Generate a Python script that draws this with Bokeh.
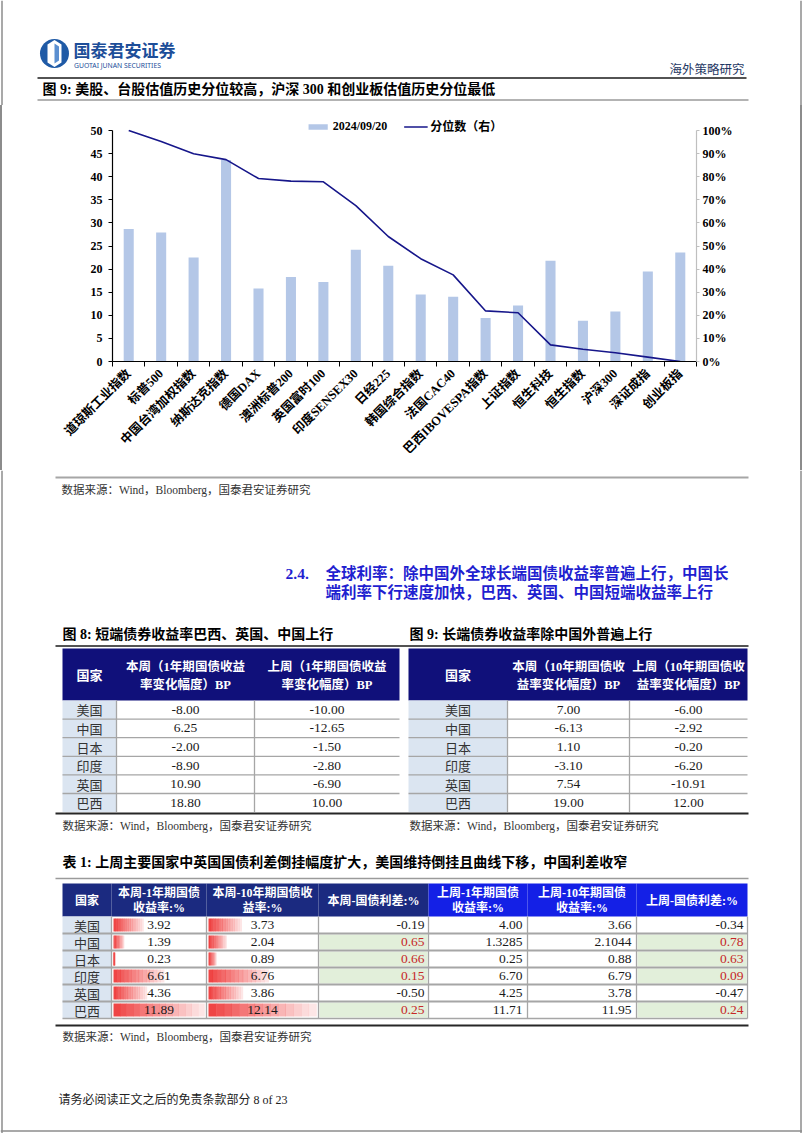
import math
from bokeh.plotting import figure
from bokeh.layouts import column
from bokeh.models import Range1d, LinearAxis, FixedTicker, NumeralTickFormatter, Legend, LegendItem
from bokeh.core.properties import value
from bokeh.embed import file_html
from bokeh.resources import INLINE

# ---------------- data ----------------
categories = ["道琼斯工业指数", "标普500", "中国台湾加权指数", "纳斯达克指数", "德国DAX", "澳洲标普200",
              "英国富时100", "印度SENSEX30", "日经225", "韩国综合指数", "法国CAC40", "巴西IBOVESPA指数",
              "上证指数", "恒生科技", "恒生指数", "沪深300", "深证成指", "创业板指"]
pe_2024_09_20 = [28.7, 27.9, 22.5, 43.6, 15.8, 18.3, 17.2, 24.2, 20.7, 14.5,
                 14.0, 9.4, 12.1, 21.8, 8.8, 10.8, 19.5, 23.6]
percentile = [1.00, 0.952, 0.899, 0.874, 0.792, 0.781, 0.778, 0.675, 0.541, 0.445,
              0.375, 0.219, 0.211, 0.072, 0.053, 0.038, 0.019, 0.0]
left_ticks = [0, 5, 10, 15, 20, 25, 30, 35, 40, 45, 50]
right_ticks = [0.0, 0.1, 0.2, 0.3, 0.4, 0.5, 0.6, 0.7, 0.8, 0.9, 1.0]

countries = ["美国", "中国", "日本", "印度", "英国", "巴西"]
short_this_week = [-8.00, 6.25, -2.00, -8.90, 10.90, 18.80]
short_last_week = [-10.00, -12.65, -1.50, -2.80, -6.90, 10.00]
long_this_week = [7.00, -6.13, 1.10, -3.10, 7.54, 19.00]
long_last_week = [-6.00, -2.92, -0.20, -6.20, -10.91, 12.00]
y1_this = [3.92, 1.39, 0.23, 6.61, 4.36, 11.89]
y10_this = [3.73, 2.04, 0.89, 6.76, 3.86, 12.14]
spread_this = [-0.19, 0.65, 0.66, 0.15, -0.50, 0.25]
y1_last = [4.00, 1.3285, 0.25, 6.70, 4.25, 11.71]
y10_last = [3.66, 2.1044, 0.88, 6.79, 3.78, 11.95]
spread_last = [-0.34, 0.78, 0.63, 0.09, -0.47, 0.24]

# ---------------- styles ----------------
SERIF = "Liberation Serif"
MIX = "Liberation Serif, Noto Sans CJK SC"
CJK = "Noto Sans CJK SC"
W = 802
BAR = "#b4c7e7"
LINE = "#16168a"
NAVY = "#10107a"
NAVY2 = "#1b2a80"
BLUE2 = "#1420e6"
GRAY = "#a6a6a6"
EDGE = "#8c8c8c"


def fmt(v):
    s = f"{v:.2f}"
    if abs(float(s) - v) > 1e-9:
        s = f"{v:.4f}"
    return s


def page_fig(top, bottom):
    f = figure(width=W, height=bottom - top, x_range=Range1d(0, W), y_range=Range1d(bottom, top),
               output_backend="svg", toolbar_location=None, min_border=0,
               x_axis_location=None, y_axis_location=None)
    f.frame_align = False
    f.grid.visible = False
    f.outline_line_color = None
    # page edges
    f.segment(x0=[1.5, 800.5], x1=[1.5, 800.5], y0=[top, top], y1=[bottom, bottom],
              line_color=EDGE, line_width=1.5)
    return f


def T(f, x, y, s, size, color="#000000", bold=False, font=MIX, align="left", baseline="middle"):
    f.text(x=[x], y=[y], text=[s], text_font=value(font), text_font_size=f"{size}px",
           text_color=color, text_font_style="bold" if bold else "normal",
           text_align=align, text_baseline=baseline)


def HL(f, x0, x1, y, color, w):
    f.segment(x0=[x0], y0=[y], x1=[x1], y1=[y], line_color=color, line_width=w)


# ---------------- header ----------------
ph = page_fig(0, 105)
ph.ellipse(x=[54], y=[53], width=29, height=29, fill_color="#1f5aa6", line_color=None)
ph.patch(x=[54, 61, 61, 54, 47, 47], y=[39.5, 44, 62, 66.5, 62, 44], fill_color="white", line_color=None)
ph.patch(x=[54, 58.5, 58.5, 54], y=[43, 46, 60, 63], fill_color="#5b8fd0", line_color=None)
T(ph, 73, 49, "国泰君安证券", 17, "#1d4e99", bold=True, font=CJK)
T(ph, 73.5, 64.5, "GUOTAI JUNAN SECURITIES", 6.8, "#1d4e99", font="Noto Sans")
T(ph, 744, 68, "海外策略研究", 12.5, "#1f3864", font=CJK, align="right")
HL(ph, 37, 746, 77.5, "#1a1a1a", 1.6)
T(ph, 42, 88.5, "图 9: 美股、台股估值历史分位较高，沪深 300 和创业板估值历史分位最低", 14, "#000000", bold=True)
HL(ph, 37, 748, 99.5, "#9a9a9a", 1.6)

# ---------------- chart ----------------
# frame: page x 112..696, page y 114..361 ; value 50 / 100% sits at page y 130
TOP0 = 105
FR_TOP, FR_BOT, V_TOP = 114, 361, 130
ext = (FR_BOT - FR_TOP) / (FR_BOT - V_TOP)
centers = [i + 0.5 for i in range(len(categories))]
bounds = [float(i) for i in range(len(categories) + 1)]
pc = figure(width=W, height=365, x_range=Range1d(0, len(categories)), y_range=Range1d(0, 50 * ext),
            output_backend="svg", toolbar_location=None,
            min_border_left=112, min_border_right=W - 696, min_border_top=FR_TOP - TOP0,
            min_border_bottom=470 - FR_BOT, x_axis_location=None, y_axis_location=None)
pc.frame_align = False
pc.grid.visible = False
pc.outline_line_color = None
pc.border_fill_color = None
pc.styles = {"box-shadow": "inset 2px 0 0 #8c8c8c, inset -2px 0 0 #8c8c8c"}
pc.extra_y_ranges = {"pct": Range1d(0, 1 * ext)}

bars = pc.vbar(x=centers, top=pe_2024_09_20, width=0.31, bottom=0, fill_color=BAR, line_color=None)
ln = pc.line(x=centers, y=percentile, y_range_name="pct", line_color=LINE, line_width=1.6)

ax_l = LinearAxis(ticker=FixedTicker(ticks=left_ticks, minor_ticks=[]), bounds=(0, 50))
ax_r = LinearAxis(y_range_name="pct", ticker=FixedTicker(ticks=right_ticks, minor_ticks=[]),
                  formatter=NumeralTickFormatter(format="0%"), bounds=(0, 1))
overrides = {}
for c, lab in zip(centers, categories):
    overrides[c] = lab
    overrides[str(c)] = lab
ax_b = LinearAxis(ticker=FixedTicker(ticks=centers, minor_ticks=bounds), major_label_overrides=overrides)

for ax in (ax_l, ax_r, ax_b):
    ax.major_label_text_font = SERIF
    ax.major_label_text_font_style = "bold"
    ax.major_label_text_font_size = "12px"
    ax.major_label_text_color = "#000000"
    ax.axis_line_color = "#000000"
    ax.axis_line_width = 1.2
    ax.major_tick_line_color = "#000000"
    ax.major_tick_in = 0
    ax.major_tick_out = 4
    ax.minor_tick_line_color = None

ax_l.major_label_standoff = 6
ax_r.axis_line_color = "#bfbfbf"
ax_r.major_tick_line_color = "#bfbfbf"
ax_r.major_tick_out = 3
ax_r.major_label_standoff = 3
ax_b.major_tick_line_color = None
ax_b.minor_tick_line_color = "#000000"
ax_b.minor_tick_in = 0
ax_b.minor_tick_out = 5
ax_b.major_label_orientation = math.pi / 4
ax_b.major_label_text_font = MIX
ax_b.major_label_text_font_size = "12.5px"
ax_b.major_label_standoff = 5

pc.add_layout(ax_l, "left")
pc.add_layout(ax_r, "right")
pc.add_layout(ax_b, "below")

legend = Legend(items=[LegendItem(label="2024/09/20", renderers=[bars]),
                       LegendItem(label="分位数（右）", renderers=[ln])],
                orientation="horizontal", location="top_center", padding=0, margin=3, spacing=16,
                label_standoff=3, glyph_width=24, glyph_height=7, label_height=12,
                border_line_color=None, background_fill_alpha=0,
                label_text_font=MIX, label_text_font_style="bold", label_text_font_size="12px",
                label_text_color="#000000")
pc.add_layout(legend, "center")

# ---------------- rest of page ----------------
pr = page_fig(470, 1133)
HL(pr, 0, W, 1130.5, EDGE, 1.5)
HL(pr, 55, 748, 477, GRAY, 2)
T(pr, 61, 489, "数据来源：Wind，Bloomberg，国泰君安证券研究", 11.5, "#333333")

T(pr, 285, 573, "2.4.", 15.5, "#1f1fd0", bold=True, font=SERIF)
T(pr, 325, 573, "全球利率：除中国外全球长端国债收益率普遍上行，中国长", 15.5, "#1f1fd0", bold=True)
T(pr, 325, 592, "端利率下行速度加快，巴西、英国、中国短端收益率上行", 15.5, "#1f1fd0", bold=True)

T(pr, 62, 634, "图 8: 短端债券收益率巴西、英国、中国上行", 14, "#000000", bold=True)
T(pr, 409, 634, "图 9: 长端债券收益率除中国外普遍上行", 14, "#000000", bold=True)
HL(pr, 55, 748, 645.5, "#1a1a1a", 1.6)


def bond_table(f, cols, head2, head3, this_vals, last_vals):
    top, hb, rh = 648.0, 700.0, 18.6
    f.quad(left=[cols[0]], right=[cols[-1]], top=[top], bottom=[hb], fill_color=NAVY, line_color=None)
    T(f, (cols[0] + cols[1]) / 2, 675, "国家", 13, "#ffffff", bold=True, align="center")
    for j, lines in ((1, head2), (2, head3)):
        for k, s in enumerate(lines):
            T(f, (cols[j] + cols[j + 1]) / 2, 666 + k * 18, s, 12.5, "#ffffff", bold=True, align="center")
    n = len(countries)
    tops = [hb + i * rh for i in range(n)]
    bots = [t + rh for t in tops]
    mids = [t + rh / 2 for t in tops]
    f.quad(left=[cols[0]] * n, right=[cols[1]] * n, top=tops, bottom=bots,
           fill_color="#dbe5f1", line_color=None)
    f.segment(x0=[cols[0]] * (n - 1), x1=[cols[-1]] * (n - 1), y0=tops[1:], y1=tops[1:],
              line_color=GRAY, line_width=1.3)
    f.segment(x0=[cols[1], cols[2]], x1=[cols[1], cols[2]], y0=[hb, hb], y1=[bots[-1], bots[-1]],
              line_color=GRAY, line_width=1.3)
    cx = [(cols[0] + cols[1]) / 2] * n
    f.text(x=cx, y=mids, text=countries, text_font=value(CJK), text_font_size="13px",
           text_color="#333333", text_align="center", text_baseline="middle")
    for j, vals in ((1, this_vals), (2, last_vals)):
        f.text(x=[(cols[j] + cols[j + 1]) / 2] * n, y=mids, text=[fmt(v) for v in vals],
               text_font=value(SERIF), text_font_size="13.5px", text_color="#1a1a1a",
               text_align="center", text_baseline="middle")


bond_table(pr, [62, 116, 254, 399], ["本周（1年期国债收益", "率变化幅度）BP"],
           ["上周（1年期国债收益", "率变化幅度）BP"], short_this_week, short_last_week)
bond_table(pr, [408, 507, 629, 747], ["本周（10年期国债收", "益率变化幅度）BP"],
           ["上周（10年期国债收", "益率变化幅度）BP"], long_this_week, long_last_week)
HL(pr, 55, 748, 813, "#262626", 2)
T(pr, 62, 825, "数据来源：Wind，Bloomberg，国泰君安证券研究", 11.5, "#333333")
T(pr, 409, 825, "数据来源：Wind，Bloomberg，国泰君安证券研究", 11.5, "#333333")

# ---- table 表1 ----
T(pr, 62, 862, "表 1: 上周主要国家中英国国债利差倒挂幅度扩大，美国维持倒挂且曲线下移，中国利差收窄", 14, "#000000", bold=True)
HL(pr, 55, 748, 878, "#9a9a9a", 1.6)

c3 = [62, 111, 206, 318, 428, 527, 636, 747]
top3, hb3, rh3 = 883.0, 916.0, 17.0
n = len(countries)
head_cols = [NAVY2, NAVY2, NAVY2, NAVY2, BLUE2, BLUE2, BLUE2]
pr.quad(left=c3[:-1], right=c3[1:], top=[top3] * 7, bottom=[hb3] * 7, fill_color=head_cols, line_color=None)
heads3 = [["国家"], ["本周-1年期国债", "收益率:%"], ["本周-10年期国债收", "益率:%"], ["本周-国债利差:%"],
          ["上周-1年期国债", "收益率:%"], ["上周-10年期国债", "收益率:%"], ["上周-国债利差:%"]]
for j, lines in enumerate(heads3):
    cxj = (c3[j] + c3[j + 1]) / 2
    if len(lines) == 1:
        T(pr, cxj, 900, lines[0], 12, "#ffffff", bold=True, align="center")
    else:
        for k, s in enumerate(lines):
            T(pr, cxj, 892 + k * 15, s, 12, "#ffffff", bold=True, align="center")

tops3 = [hb3 + i * rh3 for i in range(n)]
bots3 = [t + rh3 for t in tops3]
mids3 = [t + rh3 / 2 for t in tops3]
pr.quad(left=[c3[0]] * n, right=[c3[1]] * n, top=tops3, bottom=bots3, fill_color="#dbe5f1", line_color=None)

# green cells for positive spreads
for j, vals in ((3, spread_this), (6, spread_last)):
    idx = [i for i, v in enumerate(vals) if v > 0]
    pr.quad(left=[c3[j] + 1] * len(idx), right=[c3[j + 1] - 1] * len(idx),
            top=[tops3[i] + 1 for i in idx], bottom=[bots3[i] - 1 for i in idx],
            fill_color="#e2efda", line_color=None)

# gradient data bars
NSL = 14
for j, vals in ((1, y1_this), (2, y10_this)):
    vmax = max(vals)
    x0 = c3[j] + 2
    wcol = c3[j + 1] - c3[j] - 4
    L, R, TT, BB, A = [], [], [], [], []
    for i, v in enumerate(vals):
        bw = v / vmax * wcol
        for k in range(NSL):
            L.append(x0 + bw * k / NSL)
            R.append(x0 + bw * (k + 1) / NSL + 0.3)
            TT.append(tops3[i] + 2)
            BB.append(bots3[i] - 2)
            A.append(0.92 - 0.8 * k / (NSL - 1))
    pr.quad(left=L, right=R, top=TT, bottom=BB, fill_color="#ee3535", fill_alpha=A, line_color=None)

pr.segment(x0=[c3[0]] * (n - 1), x1=[c3[-1]] * (n - 1), y0=tops3[1:], y1=tops3[1:], line_color=GRAY, line_width=1.8)
pr.segment(x0=c3[1:], x1=c3[1:], y0=[hb3] * 7, y1=[bots3[-1]] * 7, line_color=GRAY, line_width=1.3)
HL(pr, c3[0], c3[-1], bots3[-1], GRAY, 1.3)

pr.text(x=[(c3[0] + c3[1]) / 2] * n, y=mids3, text=countries, text_font=value(CJK), text_font_size="13px",
        text_color="#333333", text_align="center", text_baseline="middle")
for j, vals in ((1, y1_this), (2, y10_this)):
    pr.text(x=[(c3[j] + c3[j + 1]) / 2] * n, y=mids3, text=[fmt(v) for v in vals], text_font=value(SERIF),
            text_font_size="13.5px", text_color="#1a1a1a", text_align="center", text_baseline="middle")
for j, vals in ((4, y1_last), (5, y10_last)):
    pr.text(x=[c3[j + 1] - 5] * n, y=mids3, text=[fmt(v) for v in vals], text_font=value(SERIF),
            text_font_size="13.5px", text_color="#1a1a1a", text_align="right", text_baseline="middle")
for j, vals in ((3, spread_this), (6, spread_last)):
    pr.text(x=[c3[j + 1] - 4] * n, y=mids3, text=[fmt(v) for v in vals], text_font=value(SERIF),
            text_font_size="13.5px", text_color=["#c62828" if v > 0 else "#1a1a1a" for v in vals],
            text_align="right", text_baseline="middle")

HL(pr, 55, 748, 1025, "#262626", 2)
T(pr, 62, 1036, "数据来源：Wind，Bloomberg，国泰君安证券研究", 11.5, "#333333")

T(pr, 58, 1099, "请务必阅读正文之后的免责条款部分 8 of 23", 12, "#222222")

page = column(ph, pc, pr, spacing=0)
open("out.html", "w").write(file_html(page, INLINE))
